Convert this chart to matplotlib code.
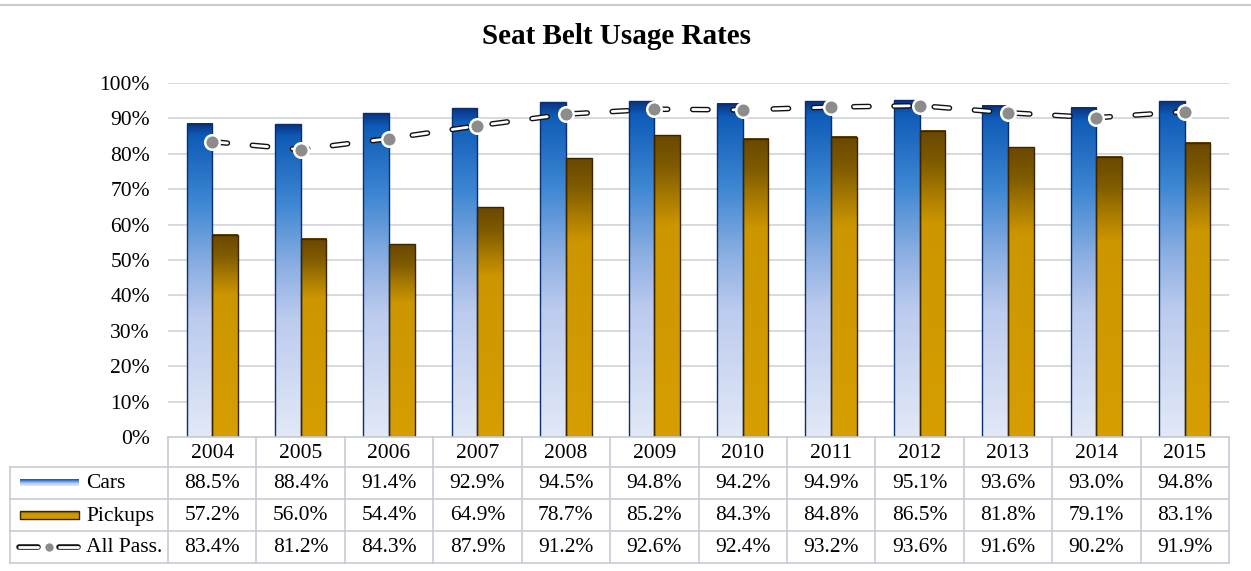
import numpy as np
import matplotlib.pyplot as plt
from matplotlib.colors import LinearSegmentedColormap
from matplotlib.patches import Rectangle
from matplotlib.lines import Line2D

plt.rcParams['font.family'] = ['Liberation Serif', 'DejaVu Serif']
plt.rcParams['lines.scale_dashes'] = False

# data
years = ['2004', '2005', '2006', '2007', '2008', '2009', '2010', '2011', '2012', '2013', '2014', '2015']
cars = [88.5, 88.4, 91.4, 92.9, 94.5, 94.8, 94.2, 94.9, 95.1, 93.6, 93.0, 94.8]
pickups = [57.2, 56.0, 54.4, 64.9, 78.7, 85.2, 84.3, 84.8, 86.5, 81.8, 79.1, 83.1]
all_pass = [83.4, 81.2, 84.3, 87.9, 91.2, 92.6, 92.4, 93.2, 93.6, 91.6, 90.2, 91.9]
series_names = ['Cars', 'Pickups', 'All Pass.']

W, H = 1251, 571
fig = plt.figure(figsize=(W / 100, H / 100), dpi=100)

# gradients (top -> bottom)
cars_cmap = LinearSegmentedColormap.from_list('cars', [
    (0.0, '#0b3380'), (0.04, '#0f5cb8'), (0.25, '#3d86d2'),
    (0.45, '#8aaee2'), (0.62, '#bccbee'), (1.0, '#e2e9f7')])
pick_cmap = LinearSegmentedColormap.from_list('pick', [
    (0.0, '#6a4800'), (0.1, '#7e5a00'), (0.2, '#a67900'),
    (0.3, '#cc9600'), (1.0, '#d69e00')])
grad = np.linspace(0, 1, 256).reshape(-1, 1)

# plot area
x0, x1 = 168, 1229
y_top, y_bot = 83, 437
ax = fig.add_axes([x0 / W, 1 - y_bot / H, (x1 - x0) / W, (y_bot - y_top) / H])
n = len(years)
x = np.arange(n)
bw = 0.29

for v in range(10, 101, 10):
    ax.axhline(v, color='#d0d3da', lw=1.2, zorder=0)

def grad_bar(xl, h, cmap, edge):
    ax.imshow(grad, cmap=cmap, extent=(xl, xl + bw, 0, h), aspect='auto',
              origin='upper', zorder=2, interpolation='bilinear')
    ax.add_patch(Rectangle((xl, 0), bw, h, fill=False, edgecolor=edge, lw=1.0, zorder=3))

for i in range(n):
    grad_bar(x[i] - bw, cars[i], cars_cmap, '#0a2f70')
    grad_bar(x[i], pickups[i], pick_cmap, '#3a2500')

ax.set_xlim(-0.5, n - 0.5)
ax.set_ylim(0, 100)

# all passengers line: outlined pill dashes
dash = (11, 18)
l1, = ax.plot(x, all_pass, color='#111111', lw=4.0, zorder=5)
l1.set_dash_capstyle('round')
l1.set_dashes(dash)
l2, = ax.plot(x, all_pass, color='white', lw=2.0, zorder=6)
l2.set_dash_capstyle('round')
l2.set_dashes(dash)
ax.plot(x, all_pass, ls='none', marker='o', ms=10.5, mfc='#8c8c8c',
        mec='white', mew=1.8, zorder=7)

ax.set_xticks([])
ax.set_yticks(range(0, 101, 10))
ax.set_yticklabels([f'{v}%' for v in range(0, 101, 10)], fontsize=15.5)
ax.tick_params(axis='y', length=0, pad=13)
for s in ax.spines.values():
    s.set_visible(False)

# title and top rule
fig.text(616 / W, 1 - 37 / H, 'Seat Belt Usage Rates', ha='center', va='center',
         fontsize=21, fontweight='bold')
fig.add_artist(Line2D([0, 1], [1 - 5 / H, 1 - 5 / H], color='#c9ccd6', lw=1.5))

# data table
tab = fig.add_axes([0, 0, 1, 1], facecolor='none')
tab.axis('off')
gc = '#c8ccd6'
rows = [437, 467, 499, 531, 563]
tl = 10
cw = (x1 - x0) / n
tab.plot([x0, x1], [rows[0], rows[0]], color=gc, lw=1.2)
for r in rows[1:]:
    tab.plot([tl, x1], [r, r], color=gc, lw=1.2)
tab.plot([tl, tl], [rows[1], rows[4]], color=gc, lw=1.2)
for j in range(n + 1):
    xx = x0 + j * cw
    tab.plot([xx, xx], [rows[0], rows[4]], color=gc, lw=1.2)

fs = 15.5
for j in range(n):
    cx = x0 + (j + 0.5) * cw
    tab.text(cx, (rows[0] + rows[1]) / 2 + 1, years[j], ha='center', va='center', fontsize=fs)
    for k, vals in enumerate([cars, pickups, all_pass]):
        tab.text(cx, (rows[k + 1] + rows[k + 2]) / 2 + 1, f'{vals[j]:.1f}%',
                 ha='center', va='center', fontsize=fs)

# legend keys
for k, name in enumerate(series_names):
    cy = (rows[k + 1] + rows[k + 2]) / 2 + 1
    tab.text(86, cy, name, ha='left', va='center', fontsize=fs)

cy = (rows[1] + rows[2]) / 2
tab.imshow(grad, cmap=cars_cmap, extent=(20, 79, cy + 3, cy - 4), aspect='auto',
           origin='upper', interpolation='bilinear')
cy = (rows[2] + rows[3]) / 2
tab.imshow(grad, cmap=pick_cmap, extent=(20, 79, cy + 4, cy - 4), aspect='auto',
           origin='upper', interpolation='bilinear')
tab.add_patch(Rectangle((20, cy - 4), 59, 8, fill=False, edgecolor='#3a2500', lw=1))
cy = (rows[3] + rows[4]) / 2
for a, b in [(19, 38), (59, 78)]:
    tab.plot([a, b], [cy, cy], color='#111111', lw=4.0, solid_capstyle='round')
    tab.plot([a, b], [cy, cy], color='white', lw=2.0, solid_capstyle='round')
tab.plot([48.5], [cy], marker='o', ms=7, mfc='#8c8c8c', mec='white', mew=1)
tab.set_xlim(0, W)
tab.set_ylim(H, 0)

fig.savefig('out.png', dpi=100)
